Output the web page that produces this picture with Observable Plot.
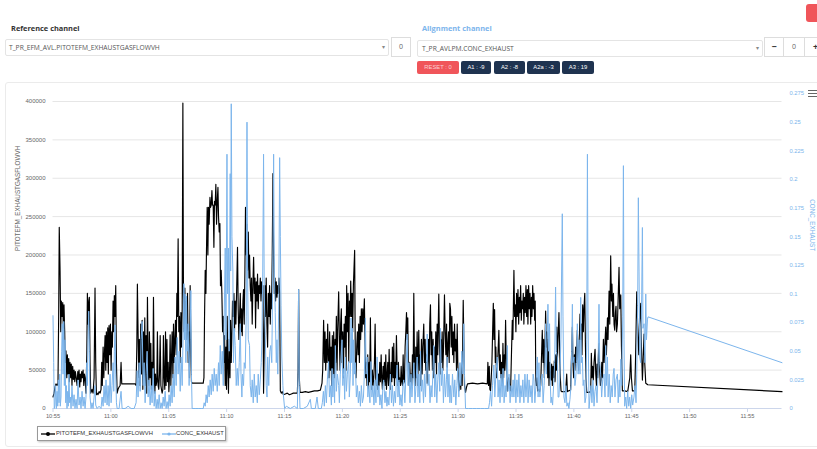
<!DOCTYPE html>
<html><head><meta charset="utf-8">
<script src="https://cdn.jsdelivr.net/npm/d3@7"></script>
<script src="https://cdn.jsdelivr.net/npm/@observablehq/plot@0.6"></script>
<style>
html,body{margin:0;padding:0;background:#fff;width:817px;height:449px;overflow:hidden;}
body{position:relative;font-family:"Open Sans",sans-serif;}
.abs{position:absolute;box-sizing:border-box;}
.lbl{font-weight:700;font-size:7.4px;line-height:10px;white-space:nowrap;}
.sel{border:1px solid #e4e4e4;border-radius:2px;height:17px;font-size:6.7px;color:#555;line-height:15px;padding-left:3px;white-space:nowrap;}
.arrow{position:absolute;right:3px;top:0;font-size:6px;color:#888;}
.box{border:1px solid #ddd;font-size:7px;color:#666;text-align:center;line-height:18px;height:20px;top:37px;}
.btn{height:13.5px;top:60.5px;border-radius:2px;font-family:"Liberation Sans",Arial,sans-serif;font-size:5.8px;line-height:13.5px;text-align:center;color:#fff;white-space:nowrap;}
.dark{background:#1f3350;}
#card{left:5px;top:82px;width:830px;height:365px;border:1px solid #ebebeb;border-radius:3px;}
#chart{left:0;top:83px;width:817px;height:340px;}
#chart svg{position:absolute;left:0;top:0;}
.hb{position:absolute;left:808px;width:9px;height:1.4px;background:#666;}
#legend{left:37px;top:426px;width:189px;height:15px;border:1px solid #999;box-shadow:1px 1px 2px rgba(0,0,0,0.25);background:#fff;font-family:"Liberation Sans",Arial,sans-serif;font-size:5.8px;color:#333;}
#legend span{position:absolute;top:0;line-height:13px;white-space:nowrap;}
#legend svg{position:absolute;top:3px;}
</style></head>
<body>
<div class="abs" style="left:806px;top:4px;width:16px;height:18px;background:#f0555a;border-radius:3px;"></div>
<div class="abs lbl" style="left:11px;top:23px;color:#333;">Reference channel</div>
<div class="abs sel" style="left:5px;top:39px;width:384px;">T_PR_EFM_AVL.PITOTEFM_EXHAUSTGASFLOWVH<span class="arrow">&#9662;</span></div>
<div class="abs box" style="left:391px;width:20px;">0</div>
<div class="abs lbl" style="left:422px;top:23px;color:#7cb5ec;">Alignment channel</div>
<div class="abs sel" style="left:417px;top:40px;width:346px;padding-left:4px;">T_PR_AVLPM.CONC_EXHAUST<span class="arrow">&#9662;</span></div>
<div class="abs box" style="left:764px;width:20px;color:#333;font-weight:700;font-size:9px;">&minus;</div>
<div class="abs box" style="left:783px;width:22px;">0</div>
<div class="abs box" style="left:804px;width:20px;color:#333;font-weight:700;font-size:9px;text-align:left;padding-left:8px;">+</div>
<div class="abs btn" style="left:417px;width:42px;background:#f0555a;color:#fbd0d2;">RESET : 0</div>
<div class="abs btn dark" style="left:461px;width:30px;">A1 : -9</div>
<div class="abs btn dark" style="left:494px;width:31px;">A2 : -8</div>
<div class="abs btn dark" style="left:527px;width:33px;">A2a : -3</div>
<div class="abs btn dark" style="left:562px;width:32px;">A3 : 19</div>
<div class="abs" id="card"></div>
<div class="hb" style="top:90px;"></div><div class="hb" style="top:92.8px;"></div><div class="hb" style="top:95.6px;"></div>
<div class="abs" id="chart"></div>
<div class="abs" id="legend">
  <svg width="14" height="8" style="left:3px;"><line x1="0" y1="4" x2="14" y2="4" stroke="#000" stroke-width="1.3"/><circle cx="7" cy="4" r="2" fill="#000"/></svg>
  <span style="left:18px;">PITOTEFM_EXHAUSTGASFLOWVH</span>
  <svg width="14" height="8" style="left:124px;"><line x1="0" y1="4" x2="14" y2="4" stroke="#7cb5ec" stroke-width="1.3"/><circle cx="7" cy="4" r="1.6" fill="#7cb5ec"/></svg>
  <span style="left:138px;">CONC_EXHAUST</span>
</div>
<script>
// ---- data ----
const startClock = "10:55";
const timeTickLabels = ["10:55","11:00","11:05","11:10","11:15","11:20","11:25","11:30","11:35","11:40","11:45","11:50","11:55"];
const flowTicks = [0,50000,100000,150000,200000,250000,300000,350000,400000];
const concTicks = [0,0.025,0.05,0.075,0.1,0.125,0.15,0.175,0.2,0.225,0.25,0.275];
const flowAxisMax = 410400;
const concAxisMax = 0.275;
const flowName = "PITOTEFM_EXHAUSTGASFLOWVH";
const concName = "CONC_EXHAUST";
// [minutes after 10:55, exhaust gas flow in thousands]
const flowSeries = [[0,15],[0.09,20],[0.17,28],[0.26,32],[0.35,30],[0.43,33],[0.49,120],[0.54,236],[0.61,180],[0.67,100],[0.72,140],[0.78,120],[0.84,138],[0.89,105],[0.95,135],[1.01,100],[1.06,60],[1.12,75],[1.19,40],[1.24,70],[1.30,45],[1.36,65],[1.41,35],[1.47,60],[1.53,40],[1.58,58],[1.64,30],[1.70,55],[1.76,38],[1.82,50],[1.88,35],[1.93,48],[1.99,42],[2.08,30],[2.14,48],[2.19,38],[2.25,50],[2.31,28],[2.36,45],[2.42,35],[2.48,48],[2.53,40],[2.60,50],[2.66,30],[2.71,45],[2.77,40],[2.85,20],[2.92,70],[2.97,150],[3.03,110],[3.09,140],[3.14,145],[3.20,60],[3.26,20],[3.31,22],[3.37,25],[3.46,20],[3.55,40],[3.63,157],[3.69,60],[3.75,18],[3.81,20],[3.89,18],[3.98,22],[4.07,20],[4.15,25],[4.21,60],[4.26,30],[4.33,80],[4.39,40],[4.44,70],[4.50,95],[4.56,50],[4.61,100],[4.67,60],[4.73,105],[4.78,45],[4.84,108],[4.90,70],[4.96,110],[5.02,50],[5.08,100],[5.13,80],[5.19,140],[5.25,100],[5.30,147],[5.36,120],[5.42,160],[5.48,60],[5.54,20],[5.62,25],[5.71,28],[5.80,30],[5.88,60],[5.94,32],[6.40,32],[6.75,32],[7.09,32],[7.18,30],[7.24,80],[7.29,162],[7.35,100],[7.41,40],[7.46,90],[7.52,30],[7.58,110],[7.64,45],[7.70,115],[7.76,25],[7.81,100],[7.87,40],[7.93,118],[7.98,30],[8.04,95],[8.10,20],[8.16,145],[8.22,60],[8.28,30],[8.33,100],[8.39,40],[8.45,85],[8.50,25],[8.56,60],[8.62,30],[8.68,145],[8.74,50],[8.80,20],[8.85,45],[8.91,30],[8.97,35],[9.02,100],[9.08,30],[9.14,25],[9.20,45],[9.26,95],[9.32,30],[9.37,25],[9.43,20],[9.49,25],[9.54,95],[9.60,40],[9.66,25],[9.72,100],[9.77,30],[9.84,90],[9.89,35],[9.95,60],[10.01,22],[10.06,40],[10.12,96],[10.18,30],[10.23,60],[10.29,100],[10.36,40],[10.41,110],[10.47,60],[10.53,90],[10.58,115],[10.64,70],[10.70,150],[10.75,120],[10.81,221],[10.87,100],[10.93,120],[10.99,60],[11.05,125],[11.10,80],[11.16,130],[11.22,398],[11.27,150],[11.33,100],[11.39,157],[11.44,110],[11.51,140],[11.57,90],[11.62,150],[11.68,60],[11.74,100],[11.79,40],[11.85,160],[11.91,90],[11.96,35],[12.02,33],[12.46,33],[12.98,33],[13.04,40],[13.09,117],[13.15,180],[13.21,150],[13.26,206],[13.32,262],[13.38,200],[13.43,262],[13.49,240],[13.56,275],[13.61,262],[13.67,265],[13.73,284],[13.78,265],[13.84,265],[13.90,210],[13.95,270],[14.01,265],[14.07,292],[14.13,240],[14.19,270],[14.25,288],[14.30,250],[14.36,230],[14.42,241],[14.47,160],[14.53,180],[14.59,150],[14.65,100],[14.71,120],[14.77,60],[14.82,95],[14.88,30],[14.94,80],[14.99,25],[15.05,120],[15.11,50],[15.16,20],[15.22,90],[15.29,40],[15.34,115],[15.40,60],[15.46,100],[15.51,140],[15.57,120],[15.63,150],[15.68,100],[15.74,140],[15.80,110],[15.86,150],[15.94,210],[16.00,130],[16.06,90],[16.12,120],[16.18,150],[16.24,100],[16.29,130],[16.35,95],[16.41,140],[16.46,155],[16.52,110],[16.58,180],[16.63,262],[16.70,200],[16.76,240],[16.81,180],[16.87,230],[16.93,170],[16.98,200],[17.04,160],[17.10,140],[17.15,170],[17.21,110],[17.27,160],[17.33,197],[17.39,150],[17.45,170],[17.50,105],[17.56,165],[17.62,140],[17.67,175],[17.73,130],[17.79,160],[17.85,150],[17.91,170],[17.97,140],[18.02,165],[18.08,150],[18.14,160],[18.19,20],[18.25,80],[18.31,160],[18.36,120],[18.42,170],[18.48,110],[18.54,80],[18.60,150],[18.66,120],[18.71,160],[18.77,110],[18.83,150],[18.88,130],[18.94,200],[19.00,306],[19.06,200],[19.12,150],[19.18,170],[19.23,140],[19.29,165],[19.35,145],[19.40,160],[19.46,150],[19.52,170],[19.58,150],[19.64,23],[19.72,20],[19.81,22],[19.90,18],[20.07,19],[20.24,20],[20.42,18],[20.59,19],[20.76,20],[20.93,20],[21.11,20],[21.17,50],[21.22,155],[21.28,40],[21.34,21],[21.54,21],[21.80,22],[22.06,21],[22.32,22],[22.58,23],[22.84,23],[23.10,24],[23.24,33],[23.30,50],[23.38,115],[23.44,60],[23.50,100],[23.56,50],[23.62,90],[23.68,60],[23.73,110],[23.79,70],[23.85,40],[23.90,100],[23.96,50],[24.02,80],[24.07,30],[24.13,95],[24.19,45],[24.25,100],[24.31,40],[24.37,90],[24.42,60],[24.48,120],[24.54,50],[24.59,100],[24.68,152],[24.74,90],[24.80,50],[24.85,110],[24.91,130],[24.97,60],[25.03,100],[25.09,40],[25.15,110],[25.20,80],[25.26,120],[25.32,50],[25.37,160],[25.43,100],[25.49,150],[25.55,60],[25.61,140],[25.67,120],[25.72,166],[25.78,120],[25.84,150],[25.89,100],[25.95,160],[26.06,206],[26.12,54],[26.18,40],[26.24,80],[26.30,100],[26.36,70],[26.41,110],[26.47,60],[26.53,120],[26.58,90],[26.64,130],[26.70,100],[26.76,130],[26.82,110],[26.90,143],[26.96,80],[27.01,40],[27.07,60],[27.13,30],[27.19,70],[27.25,25],[27.31,60],[27.36,35],[27.42,118],[27.48,40],[27.53,25],[27.59,50],[27.65,30],[27.71,40],[27.77,60],[27.83,110],[27.88,40],[27.94,30],[28.00,50],[28.05,25],[28.11,45],[28.17,30],[28.23,60],[28.29,35],[28.35,70],[28.40,40],[28.46,25],[28.52,55],[28.57,35],[28.63,60],[28.69,30],[28.75,70],[28.81,25],[28.87,45],[28.92,60],[28.98,30],[29.04,77],[29.09,40],[29.15,25],[29.21,60],[29.27,35],[29.32,80],[29.39,40],[29.44,85],[29.50,30],[29.56,60],[29.61,40],[29.67,95],[29.73,50],[29.78,30],[29.84,60],[29.90,35],[29.96,40],[30.02,30],[30.08,55],[30.13,35],[30.19,30],[30.25,70],[30.30,33],[30.36,35],[30.42,80],[30.48,100],[30.54,125],[30.60,90],[30.65,118],[30.71,40],[30.77,30],[30.82,60],[30.88,35],[30.94,45],[31.00,30],[31.05,70],[31.11,40],[31.17,150],[31.23,60],[31.29,30],[31.34,80],[31.40,40],[31.46,100],[31.51,30],[31.60,102],[31.66,50],[31.72,70],[31.77,30],[31.83,90],[31.89,45],[31.95,80],[32.03,110],[32.09,60],[32.15,90],[32.20,50],[32.27,70],[32.33,33],[32.38,60],[32.44,90],[32.50,50],[32.55,110],[32.61,135],[32.67,70],[32.72,100],[32.78,50],[32.84,90],[32.90,40],[32.96,80],[33.02,60],[33.07,100],[33.13,45],[33.19,110],[33.24,70],[33.33,149],[33.39,80],[33.45,45],[33.50,90],[33.56,60],[33.62,100],[33.68,50],[33.74,80],[33.82,148],[33.88,100],[33.94,70],[34.00,110],[34.06,54],[34.11,80],[34.17,100],[34.23,60],[34.28,137],[34.34,130],[34.40,80],[34.46,120],[34.52,70],[34.58,100],[34.63,60],[34.69,110],[34.75,75],[34.80,90],[34.86,50],[34.92,110],[34.97,60],[35.06,23],[35.12,30],[35.18,37],[35.23,25],[35.29,60],[35.35,30],[35.44,141],[35.49,90],[35.55,30],[35.64,21],[35.73,28],[35.81,32],[36.24,33],[36.68,32],[37.11,33],[37.52,32],[37.57,60],[37.63,30],[37.69,55],[37.74,25],[37.80,23],[37.86,40],[37.92,60],[37.98,100],[38.04,137],[38.09,90],[38.15,129],[38.21,60],[38.26,80],[38.32,40],[38.38,54],[38.44,70],[38.52,102],[38.58,50],[38.64,70],[38.69,40],[38.75,60],[38.81,30],[38.87,85],[38.93,40],[38.99,70],[39.04,50],[39.10,115],[39.16,60],[39.25,23],[39.30,30],[39.36,40],[39.45,30],[39.53,23],[39.59,60],[39.68,115],[39.73,90],[39.82,180],[39.88,120],[39.94,135],[39.99,100],[40.05,150],[40.11,120],[40.17,155],[40.23,110],[40.29,145],[40.34,125],[40.40,160],[40.46,115],[40.51,140],[40.57,130],[40.63,150],[40.68,110],[40.74,145],[40.80,125],[40.86,160],[40.92,120],[40.98,155],[41.03,110],[41.09,160],[41.15,130],[41.21,150],[41.27,110],[41.33,145],[41.38,120],[41.44,160],[41.50,130],[41.55,150],[41.61,115],[41.66,140],[41.71,37],[41.75,30],[41.81,40],[41.87,23],[41.96,25],[42.04,22],[42.13,30],[42.19,60],[42.27,102],[42.33,60],[42.39,90],[42.45,40],[42.50,80],[42.56,127],[42.62,80],[42.68,100],[42.74,40],[42.80,90],[42.85,30],[42.91,60],[42.97,40],[43.02,37],[43.08,58],[43.14,30],[43.19,55],[43.25,40],[43.31,62],[43.37,35],[43.43,70],[43.49,50],[43.53,106],[43.57,60],[43.63,90],[43.71,125],[43.77,80],[43.83,40],[43.89,23],[43.95,22],[44.12,22],[44.29,22],[44.38,45],[44.44,22],[44.55,23],[44.72,24],[44.78,60],[44.87,106],[44.92,60],[44.98,40],[45.04,70],[45.09,50],[45.15,80],[45.21,60],[45.30,102],[45.35,70],[45.41,50],[45.47,90],[45.53,123],[45.59,90],[45.65,110],[45.70,70],[45.76,135],[45.82,100],[45.87,130],[45.94,150],[46.00,80],[46.05,40],[46.11,21],[46.28,21],[46.45,22],[46.51,72],[46.56,40],[46.62,55],[46.68,37],[46.74,60],[46.83,77],[46.89,45],[46.95,30],[47.00,58],[47.06,40],[47.12,70],[47.17,85],[47.23,50],[47.29,30],[47.35,37],[47.41,60],[47.47,40],[47.55,90],[47.61,60],[47.67,80],[47.75,106],[47.81,70],[47.90,118],[47.95,90],[48.04,153],[48.10,110],[48.18,199],[48.24,140],[48.29,162],[48.36,120],[48.42,150],[48.47,110],[48.53,102],[48.59,125],[48.64,133],[48.69,100],[48.76,110],[48.82,140],[48.90,184],[48.96,130],[49.05,148],[49.11,80],[49.19,23],[49.39,23],[49.65,22],[49.83,40],[49.91,70],[49.97,40],[50.06,23],[50.26,23],[50.32,60],[50.37,100],[50.43,152],[50.49,120],[50.55,90],[50.61,70],[50.67,110],[50.78,137],[50.84,80],[50.92,37],[50.98,60],[51.06,97],[51.12,60],[51.21,33],[51.30,32],[51.38,31],[62.98,22]];
// [minutes after 10:55, exhaust concentration]
const concSeries = [[0,0.081],[0.06,0.04],[0.11,0],[0.17,0.003],[0.23,0.02],[0.29,0],[0.35,0.015],[0.41,0.002],[0.46,0.025],[0.52,0.005],[0.58,0.03],[0.63,0.002],[0.69,0.01],[0.75,0.05],[0.80,0.074],[0.87,0.03],[0.93,0.076],[0.98,0.02],[1.04,0.06],[1.10,0.005],[1.15,0.02],[1.21,0],[1.27,0.015],[1.32,0.002],[1.38,0.03],[1.44,0.005],[1.50,0.01],[1.56,0],[1.64,0.02],[1.73,0.002],[1.82,0.012],[1.90,0],[1.99,0.008],[2.08,0],[2.16,0.025],[2.25,0.003],[2.34,0.01],[2.42,0],[2.51,0.015],[2.60,0.002],[2.68,0.01],[2.77,0],[2.85,0.01],[2.92,0.04],[2.97,0.02],[3.03,0.06],[3.09,0.085],[3.14,0.05],[3.20,0.01],[3.29,0],[3.37,0.005],[3.46,0],[3.55,0.01],[3.63,0.02],[3.69,0.003],[3.81,0],[3.98,0.002],[4.15,0],[4.24,0.01],[4.33,0.002],[4.41,0.02],[4.50,0.005],[4.58,0.025],[4.67,0.003],[4.76,0.02],[4.84,0.002],[4.93,0.03],[5.02,0.005],[5.10,0.02],[5.19,0.04],[5.25,0.015],[5.30,0.05],[5.36,0.073],[5.42,0.03],[5.48,0.005],[5.54,0],[5.71,0],[5.88,0.015],[5.97,0],[6.23,0],[6.49,0.002],[6.75,0],[7.01,0],[7.18,0.005],[7.27,0.033],[7.35,0.01],[7.44,0.04],[7.53,0.015],[7.61,0.06],[7.70,0.076],[7.79,0.02],[7.87,0.04],[7.96,0.005],[8.04,0.03],[8.13,0.05],[8.22,0.01],[8.30,0.025],[8.39,0.003],[8.48,0.02],[8.56,0.005],[8.65,0.035],[8.74,0.002],[8.82,0.015],[8.91,0],[9.00,0.008],[9.08,0],[9.17,0.012],[9.26,0],[9.34,0.005],[9.43,0],[9.52,0.01],[9.60,0.002],[9.69,0.015],[9.77,0],[9.86,0.006],[9.95,0],[10.03,0.012],[10.12,0.002],[10.21,0.02],[10.29,0.005],[10.38,0.03],[10.47,0.01],[10.55,0.045],[10.64,0.02],[10.73,0.062],[10.81,0.03],[10.90,0.05],[10.99,0.015],[11.07,0.045],[11.16,0.02],[11.25,0.07],[11.31,0.109],[11.36,0.06],[11.42,0.1],[11.48,0.04],[11.53,0.098],[11.59,0.05],[11.68,0.074],[11.76,0.02],[11.85,0.06],[11.91,0.103],[11.96,0.03],[12.02,0],[12.28,0],[12.54,0],[12.80,0],[12.98,0],[13.06,0.005],[13.15,0.002],[13.23,0.012],[13.32,0.005],[13.41,0.02],[13.49,0.01],[13.58,0.025],[13.67,0.012],[13.75,0.03],[13.84,0.015],[13.93,0.035],[14.01,0.02],[14.10,0.03],[14.19,0.015],[14.30,0.04],[14.36,0.02],[14.45,0.055],[14.53,0.03],[14.62,0.05],[14.71,0.02],[14.79,0.08],[14.88,0.14],[14.94,0.06],[15.03,0.222],[15.08,0.1],[15.16,0.14],[15.22,0.05],[15.31,0.205],[15.35,0.12],[15.40,0.266],[15.46,0.15],[15.54,0.12],[15.59,0.04],[15.66,0.07],[15.74,0.055],[15.83,0.02],[15.92,0.035],[16.00,0.02],[16.09,0.04],[16.18,0.074],[16.24,0.03],[16.32,0.01],[16.37,0.03],[16.46,0.02],[16.52,0.04],[16.61,0.035],[16.69,0.08],[16.76,0.25],[16.81,0.12],[16.87,0.06],[16.98,0.055],[17.04,0.02],[17.13,0.01],[17.21,0.025],[17.30,0.005],[17.39,0.03],[17.47,0.01],[17.56,0.02],[17.65,0.005],[17.73,0.03],[17.82,0.012],[17.91,0.025],[17.99,0.04],[18.05,0.06],[18.12,0.12],[18.19,0.222],[18.25,0.1],[18.34,0.064],[18.42,0.02],[18.49,0.01],[18.55,0.045],[18.64,0.02],[18.73,0.05],[18.81,0.055],[18.90,0.04],[18.99,0.12],[19.06,0.222],[19.12,0.12],[19.20,0.084],[19.29,0.04],[19.35,0.06],[19.42,0.03],[19.51,0.1],[19.58,0.219],[19.64,0.15],[19.70,0.09],[19.77,0.045],[19.86,0.02],[19.92,0.01],[20.01,0],[20.16,0.002],[20.50,0],[20.85,0.002],[21.11,0],[21.17,0.03],[21.22,0.104],[21.28,0.02],[21.34,0],[21.63,0],[21.97,0.002],[22.23,0.008],[22.32,0],[22.66,0],[22.81,0.01],[22.92,0],[23.18,0],[23.27,0.005],[23.36,0.015],[23.44,0.002],[23.53,0.02],[23.62,0.005],[23.70,0.025],[23.81,0.041],[23.88,0.01],[23.96,0.02],[24.05,0.003],[24.11,0.035],[24.18,0.01],[24.26,0.03],[24.33,0.005],[24.39,0.055],[24.48,0.015],[24.57,0.03],[24.68,0.02],[24.74,0.005],[24.82,0.03],[24.97,0.06],[25.04,0.02],[25.13,0.035],[25.20,0.008],[25.26,0.045],[25.35,0.015],[25.43,0.03],[25.55,0.041],[25.60,0.01],[25.69,0.03],[25.75,0.079],[25.80,0.04],[25.86,0.07],[25.92,0.02],[25.98,0.06],[26.04,0.03],[26.12,0.04],[26.21,0.01],[26.30,0.02],[26.38,0.005],[26.47,0.015],[26.56,0.002],[26.64,0.02],[26.73,0.005],[26.82,0.01],[26.90,0.03],[26.99,0.079],[27.05,0.03],[27.14,0.045],[27.20,0.01],[27.29,0.02],[27.38,0.005],[27.47,0.041],[27.55,0.01],[27.64,0.02],[27.73,0.003],[27.81,0.025],[27.90,0.005],[28.00,0.045],[28.07,0.01],[28.16,0.02],[28.24,0.003],[28.33,0.012],[28.42,0],[28.50,0.02],[28.57,0.025],[28.68,0.005],[28.76,0.015],[28.85,0.002],[28.93,0.01],[29.02,0.003],[29.15,0.03],[29.24,0.005],[29.32,0.02],[29.41,0.002],[29.50,0.015],[29.58,0.005],[29.73,0.038],[29.80,0.01],[29.89,0.025],[29.97,0.003],[30.06,0.012],[30.15,0.002],[30.23,0.02],[30.30,0.025],[30.40,0.005],[30.49,0.03],[30.60,0.065],[30.67,0.02],[30.75,0.04],[30.84,0.005],[30.93,0.03],[31.01,0.01],[31.10,0.025],[31.18,0.04],[31.27,0.005],[31.36,0.02],[31.46,0.045],[31.53,0.01],[31.62,0.03],[31.69,0.005],[31.75,0.05],[31.83,0.015],[31.92,0.025],[32.01,0.005],[32.09,0.03],[32.18,0.01],[32.26,0.04],[32.33,0.065],[32.40,0.02],[32.48,0.03],[32.57,0.005],[32.66,0.02],[32.74,0.01],[32.83,0.035],[32.90,0.055],[32.98,0.01],[33.07,0.03],[33.16,0.005],[33.24,0.025],[33.33,0.04],[33.41,0.015],[33.47,0.07],[33.56,0.02],[33.65,0.035],[33.73,0.005],[33.82,0.03],[33.91,0.01],[33.99,0.025],[34.05,0.045],[34.12,0.01],[34.21,0.03],[34.29,0.005],[34.34,0.02],[34.43,0.005],[34.51,0.03],[34.63,0.01],[34.71,0.025],[34.80,0.003],[34.89,0.02],[34.97,0.035],[35.06,0.01],[35.15,0.04],[35.23,0.02],[35.32,0.05],[35.41,0.03],[35.49,0.074],[35.55,0.03],[35.64,0],[35.90,0],[36.24,0],[36.59,0],[36.94,0],[37.28,0],[37.63,0],[37.71,0.005],[37.80,0.015],[37.89,0.002],[37.97,0.02],[38.09,0.038],[38.17,0.01],[38.26,0.03],[38.38,0.045],[38.45,0.01],[38.54,0.025],[38.62,0.005],[38.71,0.03],[38.80,0.01],[38.88,0.035],[38.97,0.005],[39.06,0.02],[39.14,0.01],[39.25,0.055],[39.31,0.015],[39.40,0.03],[39.49,0.005],[39.57,0.02],[39.66,0.01],[39.75,0.025],[39.82,0.01],[39.90,0.03],[39.99,0.005],[40.08,0.025],[40.16,0.01],[40.25,0.03],[40.34,0.005],[40.42,0.02],[40.51,0.01],[40.59,0.025],[40.68,0.005],[40.77,0.03],[40.86,0.01],[40.98,0.03],[41.04,0.005],[41.13,0.025],[41.22,0.01],[41.30,0.02],[41.39,0.005],[41.48,0.03],[41.55,0.025],[41.63,0.005],[41.72,0.02],[41.84,0.045],[41.91,0.01],[41.98,0.04],[42.06,0.01],[42.15,0.025],[42.27,0.03],[42.34,0.005],[42.43,0.02],[42.50,0.04],[42.56,0.074],[42.62,0.03],[42.69,0.06],[42.76,0.091],[42.82,0.05],[42.90,0.074],[42.97,0.02],[43.02,0.005],[43.08,0.01],[43.16,0.003],[43.25,0.02],[43.34,0.04],[43.42,0.106],[43.48,0.05],[43.57,0.045],[43.64,0.01],[43.71,0.01],[43.80,0.03],[43.88,0.06],[43.94,0.12],[44.00,0.17],[44.06,0.08],[44.14,0.01],[44.23,0.005],[44.31,0.02],[44.40,0.002],[44.49,0.005],[44.57,0],[44.66,0.008],[44.75,0.02],[44.81,0.05],[44.87,0.091],[44.92,0.04],[45.01,0.045],[45.09,0.02],[45.15,0.025],[45.24,0.04],[45.30,0.074],[45.37,0.03],[45.44,0.06],[45.53,0.03],[45.59,0.097],[45.65,0.04],[45.73,0.045],[45.80,0.02],[45.87,0.025],[45.96,0.005],[46.04,0.01],[46.11,0.06],[46.17,0.222],[46.22,0.08],[46.31,0],[46.39,0.01],[46.48,0.02],[46.56,0.005],[46.65,0.025],[46.74,0.002],[46.82,0.015],[46.91,0.02],[47.00,0.005],[47.08,0.03],[47.17,0.091],[47.23,0.04],[47.32,0.03],[47.40,0.01],[47.49,0.025],[47.60,0.03],[47.69,0.01],[47.75,0.055],[47.81,0.02],[47.90,0.045],[47.96,0.01],[48.05,0.03],[48.14,0.005],[48.22,0.02],[48.31,0.01],[48.40,0.03],[48.47,0.035],[48.55,0.01],[48.64,0.025],[48.76,0.03],[48.83,0.005],[48.92,0.025],[48.98,0.01],[49.05,0.043],[49.13,0.02],[49.22,0.08],[49.28,0.212],[49.33,0.06],[49.39,0.002],[49.48,0.01],[49.56,0],[49.65,0.015],[49.74,0.002],[49.82,0.01],[49.91,0],[50.00,0.012],[50.08,0.003],[50.19,0.01],[50.28,0.02],[50.37,0.005],[50.43,0.03],[50.51,0.09],[50.57,0.184],[50.63,0.12],[50.69,0.045],[50.77,0.04],[50.86,0.1],[50.92,0.158],[50.97,0.07],[51.06,0.074],[51.14,0.04],[51.21,0.1],[51.27,0.06],[51.36,0.078],[51.41,0.08],[62.98,0.04]];

// ---- build ----
const [h0, m0] = startClock.split(":").map(Number);
const start = new Date(2000, 0, 1, h0, m0);
const toDate = m => new Date(start.getTime() + m * 60000);
const flowData = flowSeries.map(([m, k]) => ({time: toDate(m), value: k * 1000}));
const concData = concSeries.map(([m, v]) => ({time: toDate(m), value: v}));
const timeTicks = timeTickLabels.map(s => { const [h, m] = s.split(":").map(Number); return new Date(2000, 0, 1, h, m); });
const xDomain = [start, d3.max(flowData.concat(concData), d => d.time)];

const W = 817, H = 340;
const common = {
  width: W, height: H, marginLeft: 52.5, marginRight: 35.5, marginTop: 10, marginBottom: 15,
  style: "background: transparent; overflow: visible; font-family: 'Liberation Sans', Arial, sans-serif;"
};

const flowPlot = Plot.plot({
  ...common,
  x: {type: "time", domain: xDomain, axis: null},
  y: {domain: [0, flowAxisMax], axis: null},
  marks: [
    Plot.gridY(flowTicks.filter(d => d > 0), {stroke: "#e6e6e6", strokeOpacity: 1}),
    Plot.ruleY([0], {stroke: "#ccd6eb"}),
    Plot.axisY(flowTicks, {anchor: "left", tickSize: 0, tickPadding: 7.5, tickFormat: d3.format("d"), fill: "#666", fontSize: 6, label: null}),
    Plot.axisX(timeTicks, {anchor: "bottom", tickSize: 4, tickPadding: 1.5, tickFormat: d3.timeFormat("%H:%M"), stroke: "#ccd6eb", fill: "#666", fontSize: 5.7, label: null}),
    Plot.text([flowName], {frameAnchor: "left", rotate: -90, dx: -35.5, fill: "#666", fontSize: 6.3}),
    Plot.line(flowData, {x: "time", y: "value", stroke: "#000", strokeWidth: 1.15, strokeLinejoin: "round"})
  ]
});

const concPlot = Plot.plot({
  ...common,
  x: {type: "time", domain: xDomain, axis: null},
  y: {domain: [0, concAxisMax], axis: null},
  marks: [
    Plot.axisY(concTicks, {anchor: "right", tickSize: 0, tickPadding: 7.5, tickFormat: d => String(d), fill: "#7cb5ec", fontSize: 5.8, label: null}),
    Plot.text([concName], {frameAnchor: "right", rotate: 90, dx: 30.5, fill: "#7cb5ec", fontSize: 6.3}),
    Plot.line(concData, {x: "time", y: "value", stroke: "#7cb5ec", strokeWidth: 1, strokeLinejoin: "round"})
  ]
});

const chart = document.getElementById("chart");
chart.appendChild(flowPlot);
chart.appendChild(concPlot);
</script>
</body></html>
